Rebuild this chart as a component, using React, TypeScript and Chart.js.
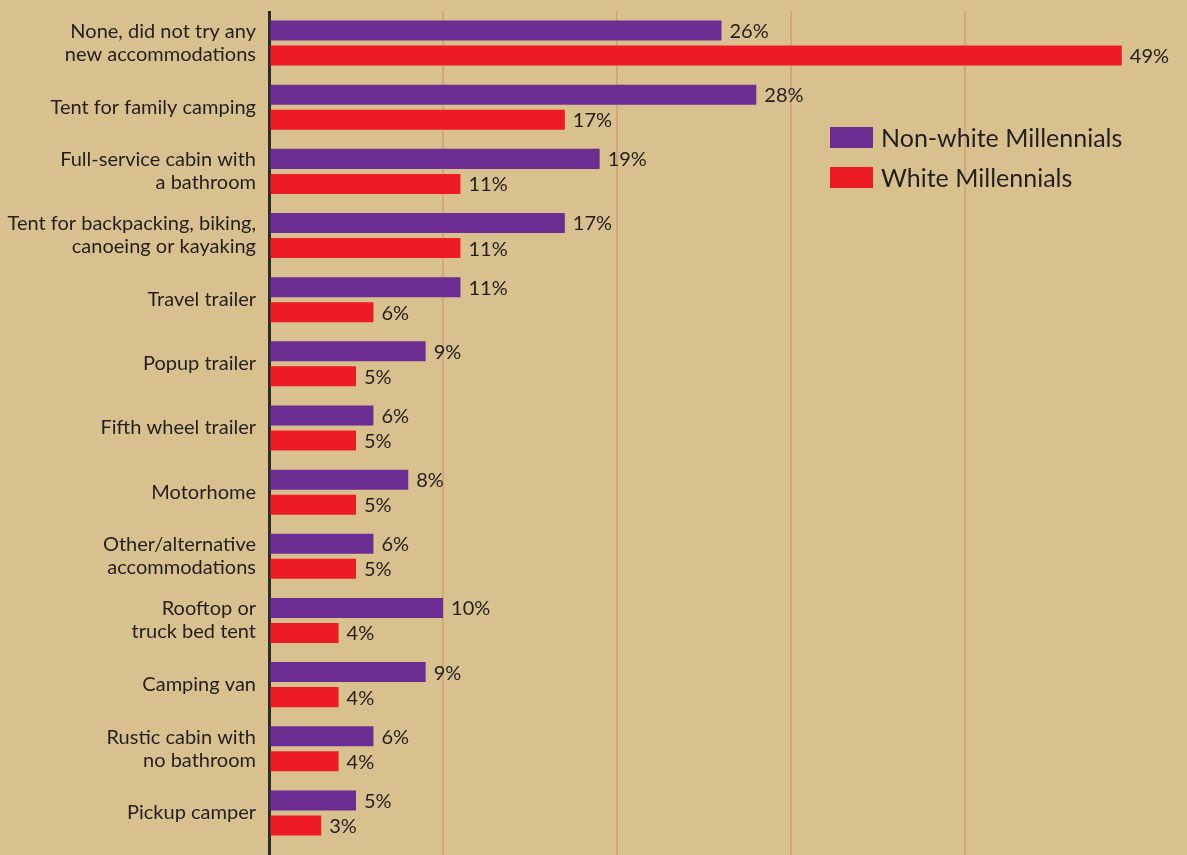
import React, { useEffect, useRef } from "react";
import { Chart, registerables } from "chart.js";

Chart.register(...registerables);

const categories: (string | string[])[] = [
  ["None, did not try any", "new accommodations"],
  "Tent for family camping",
  ["Full-service cabin with", "a bathroom"],
  ["Tent for backpacking, biking,", "canoeing or kayaking"],
  "Travel trailer",
  "Popup trailer",
  "Fifth wheel trailer",
  "Motorhome",
  ["Other/alternative", "accommodations"],
  ["Rooftop or", "truck bed tent"],
  "Camping van",
  ["Rustic cabin with", "no bathroom"],
  "Pickup camper",
];

const nonWhite = [26, 28, 19, 17, 11, 9, 6, 8, 6, 10, 9, 6, 5];
const white = [49, 17, 11, 11, 6, 5, 5, 5, 5, 4, 4, 4, 3];

const seriesNames = ["Non-white Millennials", "White Millennials"];

const BG = "#D8C18F";
const PURPLE = "#6B2D91";
const RED = "#ED1C24";
const GRID = "#D3A97B";
const TEXT = "#231F20";
const FONT = "Lato, 'Open Sans', sans-serif";

const valueLabels = {
  id: "valueLabels",
  afterDatasetsDraw(chart: any) {
    const ctx = chart.ctx;
    ctx.save();
    ctx.fillStyle = TEXT;
    ctx.font = `20px ${FONT}`;
    ctx.textAlign = "left";
    ctx.textBaseline = "middle";
    chart.data.datasets.forEach((ds: any, i: number) => {
      const meta = chart.getDatasetMeta(i);
      meta.data.forEach((bar: any, j: number) => {
        ctx.fillText(`${ds.data[j]}%`, bar.x + 8, bar.y + 1);
      });
    });
    ctx.restore();
  },
};

const insideLegend = {
  id: "insideLegend",
  afterDraw(chart: any) {
    const ctx = chart.ctx;
    ctx.save();
    ctx.font = `25px ${FONT}`;
    ctx.textAlign = "left";
    ctx.textBaseline = "middle";
    chart.data.datasets.forEach((ds: any, i: number) => {
      const y = 127 + i * 40;
      ctx.fillStyle = ds.backgroundColor;
      ctx.fillRect(830, y, 43, 21);
      ctx.fillStyle = TEXT;
      ctx.fillText(ds.label, 881, y + 12);
    });
    ctx.restore();
  },
};

export default function App() {
  const ref = useRef<HTMLCanvasElement | null>(null);

  useEffect(() => {
    document.body.style.margin = "0";
    document.body.style.background = BG;
    if (!ref.current) return;
    const chart = new Chart(ref.current, {
      type: "bar",
      data: {
        labels: categories,
        datasets: [
          {
            label: seriesNames[0],
            data: nonWhite,
            backgroundColor: PURPLE,
            categoryPercentage: 0.78,
            barPercentage: 0.8,
          },
          {
            label: seriesNames[1],
            data: white,
            backgroundColor: RED,
            categoryPercentage: 0.78,
            barPercentage: 0.8,
          },
        ],
      },
      options: {
        indexAxis: "y",
        animation: false,
        responsive: true,
        maintainAspectRatio: false,
        layout: { padding: { top: 11, right: 13, bottom: 0, left: 0 } },
        plugins: {
          legend: { display: false },
          tooltip: { enabled: false },
        },
        scales: {
          x: {
            min: 0,
            max: 52,
            border: { display: false },
            ticks: { display: false, stepSize: 10 },
            grid: {
              drawTicks: true,
              tickLength: 10,
              color: (c: any) => {
                const v = c.tick ? c.tick.value : null;
                if (v === 0) return "#2B2B2B";
                if (v === 10 || v === 20 || v === 30 || v === 40) return GRID;
                return "rgba(0,0,0,0)";
              },
              lineWidth: (c: any) => (c.tick && c.tick.value === 0 ? 3 : 2),
            },
          },
          y: {
            border: { display: false },
            grid: { display: false, drawTicks: false },
            ticks: {
              color: TEXT,
              padding: 13,
              font: { family: FONT, size: 20, lineHeight: 1.15 },
            },
            afterFit: (scale: any) => {
              scale.width = 269;
              scale.paddingTop = 0;
              scale.paddingBottom = 0;
            },
          },
        },
      },
      plugins: [valueLabels, insideLegend],
    });
    return () => chart.destroy();
  }, []);

  return (
    <div
      style={{
        position: "fixed",
        left: 0,
        top: 0,
        width: 1187,
        height: 855,
        background: BG,
      }}
    >
      <canvas ref={ref} />
    </div>
  );
}
